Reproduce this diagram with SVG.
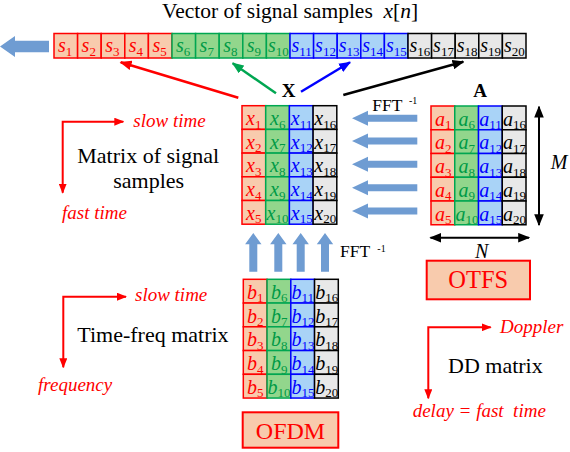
<svg xmlns="http://www.w3.org/2000/svg" width="570" height="452" viewBox="0 0 570 452" font-family="'Liberation Serif', 'DejaVu Serif', serif">
<style>
text{font-family:'Liberation Serif','DejaVu Serif',serif}
.r{fill:#f8cbad;stroke:#ff0000;stroke-width:1.5}
.g{fill:#92d68c;stroke:#00a651;stroke-width:1.5}
.b{fill:#a9d3f7;stroke:#0000ff;stroke-width:1.5}
.k{fill:#e8e8e8;stroke:#000;stroke-width:1.5}
.tr{fill:#ff0000}.tg{fill:#009a46}.tb{fill:#0000ff}.tk{fill:#000}
.v{font-size:20px;font-style:italic}
.sb{font-style:normal;font-size:13px}
.blk{fill:#6f9cd2}
.lab{font-size:22px;fill:#000}
.it{font-size:19px;font-style:italic;fill:#ff0000}
.ax{fill:none;stroke:#ff0000;stroke-width:2}
</style>
<defs>
<marker id="mr" viewBox="0 0 10 8" refX="9" refY="4" markerWidth="10" markerHeight="8" markerUnits="userSpaceOnUse" orient="auto-start-reverse"><path d="M0,0L10,4L0,8z" fill="#ff0000"/></marker>
<marker id="mg" viewBox="0 0 10 8" refX="9" refY="4" markerWidth="12" markerHeight="10" markerUnits="userSpaceOnUse" orient="auto"><path d="M0,0L10,4L0,8z" fill="#00a651"/></marker>
<marker id="mb" viewBox="0 0 10 8" refX="9" refY="4" markerWidth="12" markerHeight="10" markerUnits="userSpaceOnUse" orient="auto"><path d="M0,0L10,4L0,8z" fill="#0000ff"/></marker>
<marker id="mk" viewBox="0 0 10 8" refX="9" refY="4" markerWidth="12" markerHeight="10" markerUnits="userSpaceOnUse" orient="auto-start-reverse"><path d="M0,0L10,4L0,8z" fill="#000"/></marker>
<marker id="mr2" viewBox="0 0 10 8" refX="9" refY="4" markerWidth="12" markerHeight="10" markerUnits="userSpaceOnUse" orient="auto"><path d="M0,0L10,4L0,8z" fill="#ff0000"/></marker>
</defs>

<text x="162" y="17.5" font-size="21.5" fill="#000" xml:space="preserve">Vector of signal samples  <tspan font-style="italic">x</tspan>[<tspan font-style="italic">n</tspan>]</text>

<g id="vector">
<rect class="r" x="54" y="33.5" width="23.6" height="24.5"/><rect class="r" x="77.6" y="33.5" width="23.6" height="24.5"/><rect class="r" x="101.2" y="33.5" width="23.6" height="24.5"/><rect class="r" x="124.8" y="33.5" width="23.6" height="24.5"/><rect class="r" x="148.4" y="33.5" width="23.6" height="24.5"/>
<rect class="g" x="172" y="33.5" width="23.6" height="24.5"/><rect class="g" x="195.6" y="33.5" width="23.6" height="24.5"/><rect class="g" x="219.2" y="33.5" width="23.6" height="24.5"/><rect class="g" x="242.8" y="33.5" width="23.6" height="24.5"/><rect class="g" x="266.4" y="33.5" width="23.6" height="24.5"/>
<rect class="b" x="290" y="33.5" width="23.6" height="24.5"/><rect class="b" x="313.6" y="33.5" width="23.6" height="24.5"/><rect class="b" x="337.2" y="33.5" width="23.6" height="24.5"/><rect class="b" x="360.8" y="33.5" width="23.6" height="24.5"/><rect class="b" x="384.4" y="33.5" width="23.6" height="24.5"/>
<rect class="k" x="408" y="33.5" width="23.6" height="24.5"/><rect class="k" x="431.6" y="33.5" width="23.6" height="24.5"/><rect class="k" x="455.2" y="33.5" width="23.6" height="24.5"/><rect class="k" x="478.8" y="33.5" width="23.6" height="24.5"/><rect class="k" x="502.4" y="33.5" width="23.6" height="24.5"/>
<g class="v tr">
<text x="58" y="52">s<tspan class="sb" dy="3.5">1</tspan></text><text x="81.6" y="52">s<tspan class="sb" dy="3.5">2</tspan></text><text x="105.2" y="52">s<tspan class="sb" dy="3.5">3</tspan></text><text x="128.8" y="52">s<tspan class="sb" dy="3.5">4</tspan></text><text x="152.4" y="52">s<tspan class="sb" dy="3.5">5</tspan></text>
</g>
<g class="v tg">
<text x="176" y="52">s<tspan class="sb" dy="3.5">6</tspan></text><text x="199.6" y="52">s<tspan class="sb" dy="3.5">7</tspan></text><text x="223.2" y="52">s<tspan class="sb" dy="3.5">8</tspan></text><text x="246.8" y="52">s<tspan class="sb" dy="3.5">9</tspan></text><text x="268" y="52">s<tspan class="sb" dy="3.5">10</tspan></text>
</g>
<g class="v tb">
<text x="291.5" y="52">s<tspan class="sb" dy="3.5">11</tspan></text><text x="315.1" y="52">s<tspan class="sb" dy="3.5">12</tspan></text><text x="338.7" y="52">s<tspan class="sb" dy="3.5">13</tspan></text><text x="362.3" y="52">s<tspan class="sb" dy="3.5">14</tspan></text><text x="385.9" y="52">s<tspan class="sb" dy="3.5">15</tspan></text>
</g>
<g class="v tk">
<text x="409.5" y="52">s<tspan class="sb" dy="3.5">16</tspan></text><text x="433.1" y="52">s<tspan class="sb" dy="3.5">17</tspan></text><text x="456.7" y="52">s<tspan class="sb" dy="3.5">18</tspan></text><text x="480.3" y="52">s<tspan class="sb" dy="3.5">19</tspan></text><text x="503.9" y="52">s<tspan class="sb" dy="3.5">20</tspan></text>
</g>
<polygon class="blk" points="0,46.5 15,36 15,40.7 49,40.7 49,52.3 15,52.3 15,57"/>
</g>

<g id="matrixX">
<text x="281.7" y="96.7" font-size="19" font-weight="bold" fill="#000">X</text>
<rect class="r" x="242" y="105.7" width="23.7" height="23.7"/><rect class="r" x="242" y="129.4" width="23.7" height="23.7"/><rect class="r" x="242" y="153.1" width="23.7" height="23.7"/><rect class="r" x="242" y="176.8" width="23.7" height="23.7"/><rect class="r" x="242" y="200.5" width="23.7" height="23.7"/>
<rect class="g" x="265.7" y="105.7" width="23.7" height="23.7"/><rect class="g" x="265.7" y="129.4" width="23.7" height="23.7"/><rect class="g" x="265.7" y="153.1" width="23.7" height="23.7"/><rect class="g" x="265.7" y="176.8" width="23.7" height="23.7"/><rect class="g" x="265.7" y="200.5" width="23.7" height="23.7"/>
<rect class="b" x="289.4" y="105.7" width="23.7" height="23.7"/><rect class="b" x="289.4" y="129.4" width="23.7" height="23.7"/><rect class="b" x="289.4" y="153.1" width="23.7" height="23.7"/><rect class="b" x="289.4" y="176.8" width="23.7" height="23.7"/><rect class="b" x="289.4" y="200.5" width="23.7" height="23.7"/>
<rect class="k" x="313.1" y="105.7" width="23.7" height="23.7"/><rect class="k" x="313.1" y="129.4" width="23.7" height="23.7"/><rect class="k" x="313.1" y="153.1" width="23.7" height="23.7"/><rect class="k" x="313.1" y="176.8" width="23.7" height="23.7"/><rect class="k" x="313.1" y="200.5" width="23.7" height="23.7"/>
<g class="v tr">
<text x="246" y="125">x<tspan class="sb" dy="3.5">1</tspan></text><text x="246" y="148.7">x<tspan class="sb" dy="3.5">2</tspan></text><text x="246" y="172.4">x<tspan class="sb" dy="3.5">3</tspan></text><text x="246" y="196.1">x<tspan class="sb" dy="3.5">4</tspan></text><text x="246" y="219.8">x<tspan class="sb" dy="3.5">5</tspan></text>
</g>
<g class="v tg">
<text x="270" y="125">x<tspan class="sb" dy="3.5">6</tspan></text><text x="270" y="148.7">x<tspan class="sb" dy="3.5">7</tspan></text><text x="270" y="172.4">x<tspan class="sb" dy="3.5">8</tspan></text><text x="270" y="196.1">x<tspan class="sb" dy="3.5">9</tspan></text><text x="266.5" y="219.8">x<tspan class="sb" dy="3.5">10</tspan></text>
</g>
<g class="v tb">
<text x="290.8" y="125">x<tspan class="sb" dy="3.5">11</tspan></text><text x="290.8" y="148.7">x<tspan class="sb" dy="3.5">12</tspan></text><text x="290.8" y="172.4">x<tspan class="sb" dy="3.5">13</tspan></text><text x="290.8" y="196.1">x<tspan class="sb" dy="3.5">14</tspan></text><text x="290.8" y="219.8">x<tspan class="sb" dy="3.5">15</tspan></text>
</g>
<g class="v tk">
<text x="314.3" y="125">x<tspan class="sb" dy="3.5">16</tspan></text><text x="314.3" y="148.7">x<tspan class="sb" dy="3.5">17</tspan></text><text x="314.3" y="172.4">x<tspan class="sb" dy="3.5">18</tspan></text><text x="314.3" y="196.1">x<tspan class="sb" dy="3.5">19</tspan></text><text x="314.3" y="219.8">x<tspan class="sb" dy="3.5">20</tspan></text>
</g>
</g>

<g id="matrixA">
<text x="473.3" y="96.7" font-size="19" font-weight="bold" fill="#000">A</text>
<rect class="r" x="431" y="106" width="23.75" height="23.75"/><rect class="r" x="431" y="129.75" width="23.75" height="23.75"/><rect class="r" x="431" y="153.5" width="23.75" height="23.75"/><rect class="r" x="431" y="177.25" width="23.75" height="23.75"/><rect class="r" x="431" y="201" width="23.75" height="23.75"/>
<rect class="g" x="454.75" y="106" width="23.75" height="23.75"/><rect class="g" x="454.75" y="129.75" width="23.75" height="23.75"/><rect class="g" x="454.75" y="153.5" width="23.75" height="23.75"/><rect class="g" x="454.75" y="177.25" width="23.75" height="23.75"/><rect class="g" x="454.75" y="201" width="23.75" height="23.75"/>
<rect class="b" x="478.5" y="106" width="23.75" height="23.75"/><rect class="b" x="478.5" y="129.75" width="23.75" height="23.75"/><rect class="b" x="478.5" y="153.5" width="23.75" height="23.75"/><rect class="b" x="478.5" y="177.25" width="23.75" height="23.75"/><rect class="b" x="478.5" y="201" width="23.75" height="23.75"/>
<rect class="k" x="502.25" y="106" width="23.75" height="23.75"/><rect class="k" x="502.25" y="129.75" width="23.75" height="23.75"/><rect class="k" x="502.25" y="153.5" width="23.75" height="23.75"/><rect class="k" x="502.25" y="177.25" width="23.75" height="23.75"/><rect class="k" x="502.25" y="201" width="23.75" height="23.75"/>
<g class="v tr">
<text x="435" y="125.5">a<tspan class="sb" dy="3.5">1</tspan></text><text x="435" y="149.25">a<tspan class="sb" dy="3.5">2</tspan></text><text x="435" y="173">a<tspan class="sb" dy="3.5">3</tspan></text><text x="435" y="196.75">a<tspan class="sb" dy="3.5">4</tspan></text><text x="435" y="220.5">a<tspan class="sb" dy="3.5">5</tspan></text>
</g>
<g class="v tg">
<text x="458.5" y="125.5">a<tspan class="sb" dy="3.5">6</tspan></text><text x="458.5" y="149.25">a<tspan class="sb" dy="3.5">7</tspan></text><text x="458.5" y="173">a<tspan class="sb" dy="3.5">8</tspan></text><text x="458.5" y="196.75">a<tspan class="sb" dy="3.5">9</tspan></text><text x="455.5" y="220.5">a<tspan class="sb" dy="3.5">10</tspan></text>
</g>
<g class="v tb">
<text x="479.3" y="125.5">a<tspan class="sb" dy="3.5">11</tspan></text><text x="479.3" y="149.25">a<tspan class="sb" dy="3.5">12</tspan></text><text x="479.3" y="173">a<tspan class="sb" dy="3.5">13</tspan></text><text x="479.3" y="196.75">a<tspan class="sb" dy="3.5">14</tspan></text><text x="479.3" y="220.5">a<tspan class="sb" dy="3.5">15</tspan></text>
</g>
<g class="v tk">
<text x="503" y="125.5">a<tspan class="sb" dy="3.5">16</tspan></text><text x="503" y="149.25">a<tspan class="sb" dy="3.5">17</tspan></text><text x="503" y="173">a<tspan class="sb" dy="3.5">18</tspan></text><text x="503" y="196.75">a<tspan class="sb" dy="3.5">19</tspan></text><text x="503" y="220.5">a<tspan class="sb" dy="3.5">20</tspan></text>
</g>
<text x="550.7" y="169.3" font-size="20" font-style="italic" fill="#000">M</text>
<text x="475" y="258.3" font-size="20" font-style="italic" fill="#000">N</text>
</g>

<g id="matrixB">
<rect class="r" x="243.3" y="279.3" width="23.75" height="23.75"/><rect class="r" x="243.3" y="303.05" width="23.75" height="23.75"/><rect class="r" x="243.3" y="326.8" width="23.75" height="23.75"/><rect class="r" x="243.3" y="350.55" width="23.75" height="23.75"/><rect class="r" x="243.3" y="374.3" width="23.75" height="23.75"/>
<rect class="g" x="267.05" y="279.3" width="23.75" height="23.75"/><rect class="g" x="267.05" y="303.05" width="23.75" height="23.75"/><rect class="g" x="267.05" y="326.8" width="23.75" height="23.75"/><rect class="g" x="267.05" y="350.55" width="23.75" height="23.75"/><rect class="g" x="267.05" y="374.3" width="23.75" height="23.75"/>
<rect class="b" x="290.8" y="279.3" width="23.75" height="23.75"/><rect class="b" x="290.8" y="303.05" width="23.75" height="23.75"/><rect class="b" x="290.8" y="326.8" width="23.75" height="23.75"/><rect class="b" x="290.8" y="350.55" width="23.75" height="23.75"/><rect class="b" x="290.8" y="374.3" width="23.75" height="23.75"/>
<rect class="k" x="314.55" y="279.3" width="23.75" height="23.75"/><rect class="k" x="314.55" y="303.05" width="23.75" height="23.75"/><rect class="k" x="314.55" y="326.8" width="23.75" height="23.75"/><rect class="k" x="314.55" y="350.55" width="23.75" height="23.75"/><rect class="k" x="314.55" y="374.3" width="23.75" height="23.75"/>
<g class="v tr">
<text x="247" y="298.8">b<tspan class="sb" dy="3.5">1</tspan></text><text x="247" y="322.55">b<tspan class="sb" dy="3.5">2</tspan></text><text x="247" y="346.3">b<tspan class="sb" dy="3.5">3</tspan></text><text x="247" y="370.05">b<tspan class="sb" dy="3.5">4</tspan></text><text x="247" y="393.8">b<tspan class="sb" dy="3.5">5</tspan></text>
</g>
<g class="v tg">
<text x="271" y="298.8">b<tspan class="sb" dy="3.5">6</tspan></text><text x="271" y="322.55">b<tspan class="sb" dy="3.5">7</tspan></text><text x="271" y="346.3">b<tspan class="sb" dy="3.5">8</tspan></text><text x="271" y="370.05">b<tspan class="sb" dy="3.5">9</tspan></text><text x="267.5" y="393.8">b<tspan class="sb" dy="3.5">10</tspan></text>
</g>
<g class="v tb">
<text x="291.5" y="298.8">b<tspan class="sb" dy="3.5">11</tspan></text><text x="291.5" y="322.55">b<tspan class="sb" dy="3.5">12</tspan></text><text x="291.5" y="346.3">b<tspan class="sb" dy="3.5">13</tspan></text><text x="291.5" y="370.05">b<tspan class="sb" dy="3.5">14</tspan></text><text x="291.5" y="393.8">b<tspan class="sb" dy="3.5">15</tspan></text>
</g>
<g class="v tk">
<text x="315.3" y="298.8">b<tspan class="sb" dy="3.5">16</tspan></text><text x="315.3" y="322.55">b<tspan class="sb" dy="3.5">17</tspan></text><text x="315.3" y="346.3">b<tspan class="sb" dy="3.5">18</tspan></text><text x="315.3" y="370.05">b<tspan class="sb" dy="3.5">19</tspan></text><text x="315.3" y="393.8">b<tspan class="sb" dy="3.5">20</tspan></text>
</g>
</g>

<g id="otfs">
<rect x="426.7" y="260.7" width="103.3" height="38.6" fill="#f8cbad" stroke="#ff0000" stroke-width="2"/>
<text x="478.3" y="287.7" font-size="24.5" fill="#ff0000" text-anchor="middle">OTFS</text>
</g>
<g id="ofdm">
<rect x="242.7" y="412.3" width="95.6" height="35.4" fill="#f8cbad" stroke="#ff0000" stroke-width="2"/>
<text x="290.5" y="439.3" font-size="24" fill="#ff0000" text-anchor="middle">OFDM</text>
</g>

<g id="labels">
<text class="lab" x="77.3" y="163" font-size="21.5">Matrix of signal</text>
<text class="lab" x="148.7" y="187.5" font-size="21.5" text-anchor="middle">samples</text>
<text class="it" x="133.3" y="127">slow time</text>
<text class="it" x="62" y="218.5">fast time</text>
<text class="lab" x="77.3" y="341.5">Time-freq matrix</text>
<text class="it" x="135" y="300.5">slow time</text>
<text class="it" x="38" y="391">frequency</text>
<text class="lab" x="448" y="372.5">DD matrix</text>
<text class="it" x="500" y="333">Doppler</text>
<text class="it" x="412.7" y="417" xml:space="preserve">delay = fast  time</text>
<text x="372.3" y="111" font-size="17.5" fill="#000">FFT</text><text x="409" y="104.3" font-size="10" fill="#000">-1</text>
<text x="340" y="257.3" font-size="17.5" fill="#000">FFT</text><text x="377.3" y="251.7" font-size="10" fill="#000">-1</text>
</g>

<g id="connectors">
<path class="ax" d="M123.3,121.7H62.7V192.7" marker-start="url(#mr)" marker-end="url(#mr)"/>
<path class="ax" d="M126,296.7H63.3V367.3" marker-start="url(#mr)" marker-end="url(#mr)"/>
<path class="ax" d="M490.7,327.3H428.3V398.3" marker-start="url(#mr)" marker-end="url(#mr)"/>
<line x1="238.3" y1="97.7" x2="120.7" y2="62.3" stroke="#ff0000" stroke-width="2.5" marker-end="url(#mr2)"/>
<line x1="276" y1="93.3" x2="232.7" y2="63.3" stroke="#00a651" stroke-width="2.5" marker-end="url(#mg)"/>
<line x1="301" y1="91.7" x2="350" y2="62.3" stroke="#0000ff" stroke-width="2.5" marker-end="url(#mb)"/>
<line x1="343.3" y1="95" x2="463.3" y2="61.7" stroke="#000" stroke-width="2.5" marker-end="url(#mk)"/>
<line x1="539" y1="106.7" x2="539" y2="225" stroke="#000" stroke-width="2" marker-start="url(#mk)" marker-end="url(#mk)"/>
<line x1="430.5" y1="237.7" x2="529" y2="237.7" stroke="#000" stroke-width="2" marker-start="url(#mk)" marker-end="url(#mk)"/>
<polygon class="blk" points="352,118.3 368,110.8 368,114.8 417.3,114.8 417.3,121.8 368,121.8 368,125.8"/>
<polygon class="blk" points="352,141 368,133.5 368,137.5 417.3,137.5 417.3,144.5 368,144.5 368,148.5"/>
<polygon class="blk" points="352,164.3 368,156.8 368,160.8 417.3,160.8 417.3,167.8 368,167.8 368,171.8"/>
<polygon class="blk" points="352,187.7 368,180.2 368,184.2 417.3,184.2 417.3,191.2 368,191.2 368,195.2"/>
<polygon class="blk" points="352,211 368,203.5 368,207.5 417.3,207.5 417.3,214.5 368,214.5 368,218.5"/>
<polygon class="blk" points="253.3,233 261.5,244.3 257.3,244.3 257.3,271.7 249.3,271.7 249.3,244.3 245.1,244.3"/>
<polygon class="blk" points="278.3,233 286.5,244.3 282.3,244.3 282.3,271.7 274.3,271.7 274.3,244.3 270.1,244.3"/>
<polygon class="blk" points="300.7,233 308.9,244.3 304.7,244.3 304.7,271.7 296.7,271.7 296.7,244.3 292.5,244.3"/>
<polygon class="blk" points="325,233 333.2,244.3 329,244.3 329,271.7 321,271.7 321,244.3 316.8,244.3"/>
</g>
</svg>
